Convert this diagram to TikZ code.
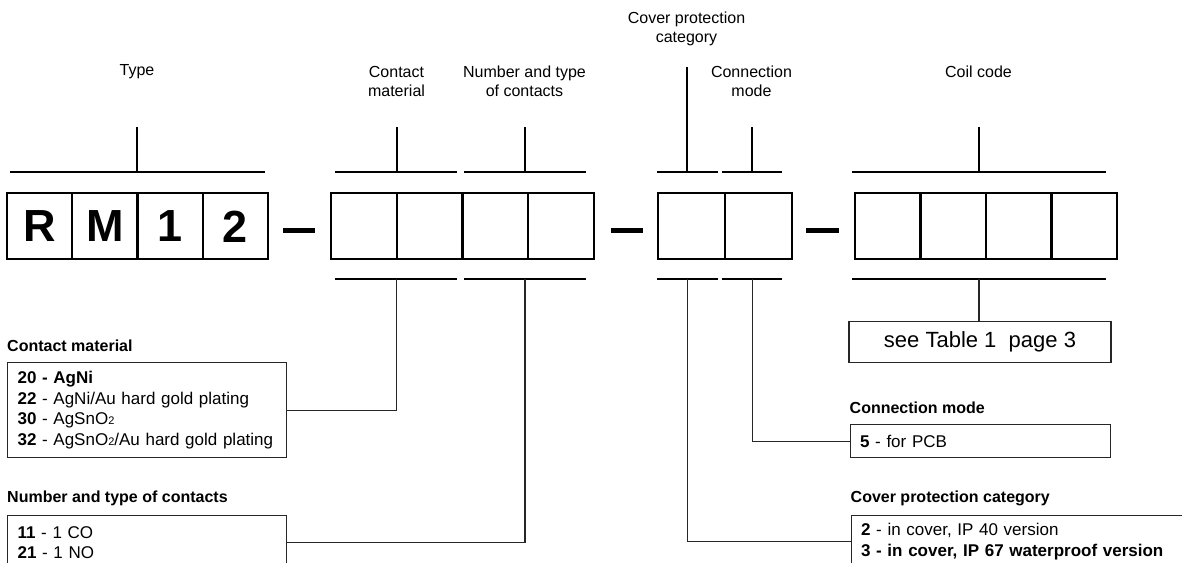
\documentclass[tikz,border=0pt]{standalone}
\usepackage{fontspec}
\setmainfont{Liberation Sans}
\usetikzlibrary{positioning, calc}

\newcommand{\lowtwo}{{\fontsize{11}{11}\selectfont 2}}

\tikzset{
	lbl/.style = {align=center, inner sep=0pt, font=\fontsize{16}{19}\selectfont},
	head/.style = {anchor=west, inner sep=0pt, font=\fontsize{16}{19}\selectfont\bfseries},
	infobox/.style = {draw=black!85, line width=1.1pt, anchor=north west, align=left, inner xsep=10pt, inner ysep=0pt, font=\fontsize{17}{20.5}\selectfont},
	letter/.style = {inner sep=0pt, font=\fontsize{45}{45}\selectfont\bfseries},
	topbar/.style = {line width=2.8pt},
	toptick/.style = {line width=2pt},
	botbar/.style = {line width=2.2pt},
	link/.style = {draw=black!85, line width=1.1pt},
	hyph/.style = {line width=5.6pt},
}

\begin{document}
\begin{tikzpicture}[x=1pt, y=-1pt]
		\useasboundingbox (0,0) rectangle (1182,562);
		\clip (0,0) rectangle (1182,562);
		
		% labels above
		\node [lbl] (typeL) at (137,72) {Type};
		\node [lbl] (matL) at (396.5,81.5) {Contact\\material};
		\node [lbl] (numL) at (524.5,81.5) {Number and type\\of contacts};
		\node [lbl] (covL) at (686.5,28.5) {Cover protection\\category};
		\node [lbl] (conL) at (751.5,81.5) {Connection\\mode};
		\node [lbl] (coilL) at (978.5,72) {Coil code};
		
		% upper brackets
		\foreach \a/\b/\m/\t in {10/265/137/127, 335/457/396.5/127, 464/586/524.5/127, 657/718/686.5/67, 722/782/751.5/127, 852/1106/978.5/127}
		{
			\draw [topbar] (\a,172) -- (\b,172);
			\draw [toptick] (\m,172) -- (\m,\t);
		}
		
		% code cells
		\foreach \g/\n/\w in {7/4/65.25, 331/4/65.75, 658/2/67, 855/4/65.5}
		{
			\foreach \i in {1,...,\n}
				\draw [line width=2.1pt] ({\g + (\i - 1)*\w},193) rectangle ++(\w,66);
			\draw [line width=2.7pt] (\g,193) rectangle ++({\n*\w},66);
		}
		\node [letter] (lR) at (39.6,226.5) {R};
		\node [letter] (lM) at (104.9,226.5) {M};
		\node [letter] (l1) at (170.1,226.5) {1};
		\node [letter] (l2) at (235.4,226.5) {2};
		
		\draw [hyph] (283,230.5) -- (315,230.5);
		\draw [hyph] (610.5,230.5) -- (643,230.5);
		\draw [hyph] (806,230.5) -- (839,230.5);
		
		% lower brackets
		\foreach \a/\b/\m/\n in {335/457/396.5/mat, 464/586/525/num, 657/718/687.5/cov, 722/782/752.5/con, 852/1106/979/coil}
		{
			\draw [botbar] (\a,279) -- (\b,279);
			\coordinate (\n B) at (\m,279);
		}
		
		% option boxes
		\node [head] (matH) at (7,346) {Contact material};
		\node [infobox, text width=259pt, minimum height=95pt] (matBox) at (7,362)
			{{\bfseries 20 - AgNi}\\{\bfseries 22} - AgNi/Au hard gold plating\\{\bfseries 30} - AgSnO\lowtwo\\{\bfseries 32} - AgSnO\lowtwo/Au hard gold plating};
		
		\node [head] (numH) at (7,498) {Number and type of contacts};
		\node [infobox, text width=259pt, minimum height=54pt] (numBox) at (7,515)
			{{\bfseries 11} - 1 CO\\{\bfseries 21} - 1 NO};
		
		\node [infobox, anchor=north, align=center, minimum width=262pt, minimum height=41pt, font=\fontsize{22}{24}\selectfont] (tabBox) at (980,321) {see Table 1\ \ page 3};
		
		\node [head] (conH) at (849.5,408) {Connection mode};
		\node [infobox, text width=240pt, minimum height=33pt] (conBox) at (849.5,424)
			{{\bfseries 5} - for PCB};
		
		\node [head] (covH) at (850.5,498) {Cover protection category};
		\node [infobox, text width=380pt, minimum height=52pt] (covBox) at (850.5,515)
			{{\bfseries 2} - in cover, IP 40 version\\{\bfseries 3 - in cover, IP 67 waterproof version}};
		
		% leaders
		\draw [link] (matB) |- (matBox.east);
		\draw [link] (numB) |- (numBox.east);
		\draw [link] (covB) |- (covBox.west);
		\draw [link] (conB) |- (conBox.west);
		\draw [link] (coilB) -- (coilB |- tabBox.north);
\end{tikzpicture}
\end{document}
